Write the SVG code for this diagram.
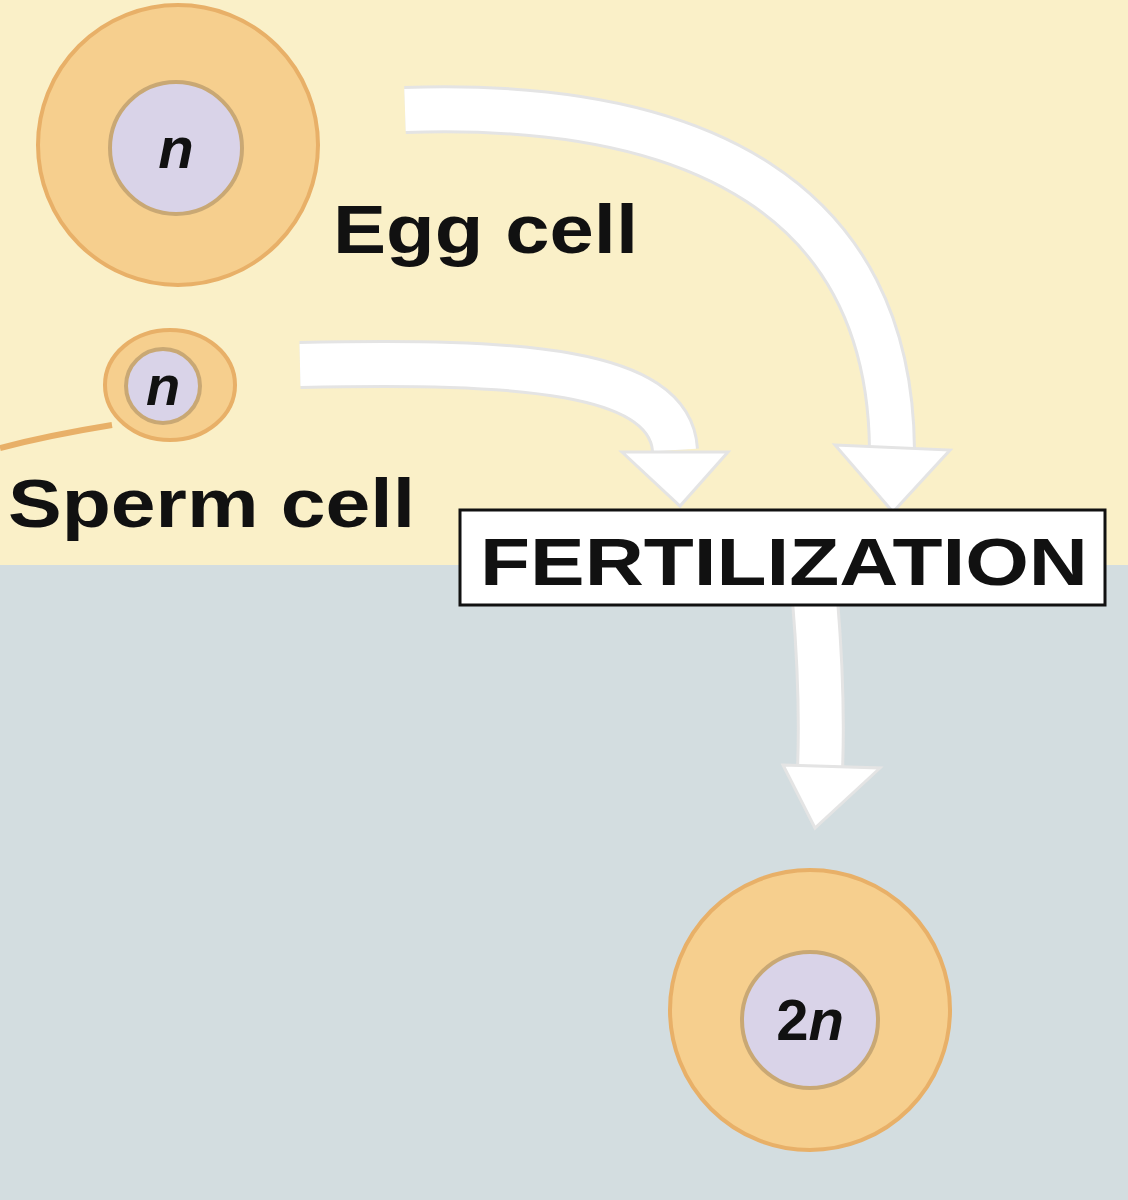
<svg xmlns="http://www.w3.org/2000/svg" width="1128" height="1200" viewBox="0 0 1128 1200">
<defs>
<style>
.cell{fill:#F6CF8E;stroke:#E8B068;stroke-width:4}
.nuc{fill:#D9D3E8;stroke:#C9A874;stroke-width:4}
.lbl{font-family:"Liberation Sans",Arial,sans-serif;font-weight:bold;fill:#111}
.n{font-family:"Liberation Sans",Arial,sans-serif;font-weight:bold;font-style:italic;fill:#111}
.shaft{fill:none;stroke:#FFFFFF;stroke-width:42}
.shaftE{fill:none;stroke:#E4E4E4;stroke-width:48}
.head{fill:#FFFFFF;stroke:#E4E4E4;stroke-width:3}
</style>
</defs>
<rect x="0" y="0" width="1128" height="565" fill="#FAF0C8"/>
<rect x="0" y="565" width="1128" height="635" fill="#D3DDE0"/>
<g id="connectors">
<path class="shaftE" d="M405,110 C700,100 890,200 892,450"/>
<path class="shaft" d="M405,110 C700,100 890,200 892,450"/>
<polygon class="head" points="835,445 950,450 893,512"/>
<path class="shaftE" d="M300,365 C520,360 670,370 675,450"/>
<path class="shaft" d="M300,365 C520,360 670,370 675,450"/>
<polygon class="head" points="622,452 728,452 680,506"/>
<path class="shaftE" d="M815,600 C820,660 822,720 820,770"/>
<path class="shaft" d="M815,600 C820,660 822,720 820,770"/>
<polygon class="head" points="783,765 880,768 815,828"/>
</g>
<g id="egg">
<circle class="cell" cx="178" cy="145" r="140"/>
<circle class="nuc" cx="176" cy="148" r="66"/>
<text class="n" x="176" y="168" font-size="58" text-anchor="middle">n</text>
<text class="lbl" x="333" y="253" font-size="68" textLength="305" lengthAdjust="spacingAndGlyphs">Egg cell</text>
</g>
<g id="sperm">
<path d="M112,425 Q50,435 0,448" fill="none" stroke="#E8B068" stroke-width="6"/>
<ellipse class="cell" cx="170" cy="385" rx="65" ry="55"/>
<circle class="nuc" cx="163" cy="386" r="37"/>
<text class="n" x="163" y="405" font-size="56" text-anchor="middle">n</text>
<text class="lbl" x="8" y="527" font-size="68" textLength="407" lengthAdjust="spacingAndGlyphs">Sperm cell</text>
</g>
<g id="fertilization">
<rect x="460" y="510" width="645" height="95" fill="#FFFFFF" stroke="#111" stroke-width="3"/>
<text class="lbl" x="480" y="585" font-size="66" textLength="608" lengthAdjust="spacingAndGlyphs">FERTILIZATION</text>
</g>
<g id="zygote">
<circle class="cell" cx="810" cy="1010" r="140"/>
<circle class="nuc" cx="810" cy="1020" r="68"/>
<text class="lbl" x="810" y="1040" font-size="58" text-anchor="middle">2<tspan font-style="italic">n</tspan></text>
</g>
</svg>
